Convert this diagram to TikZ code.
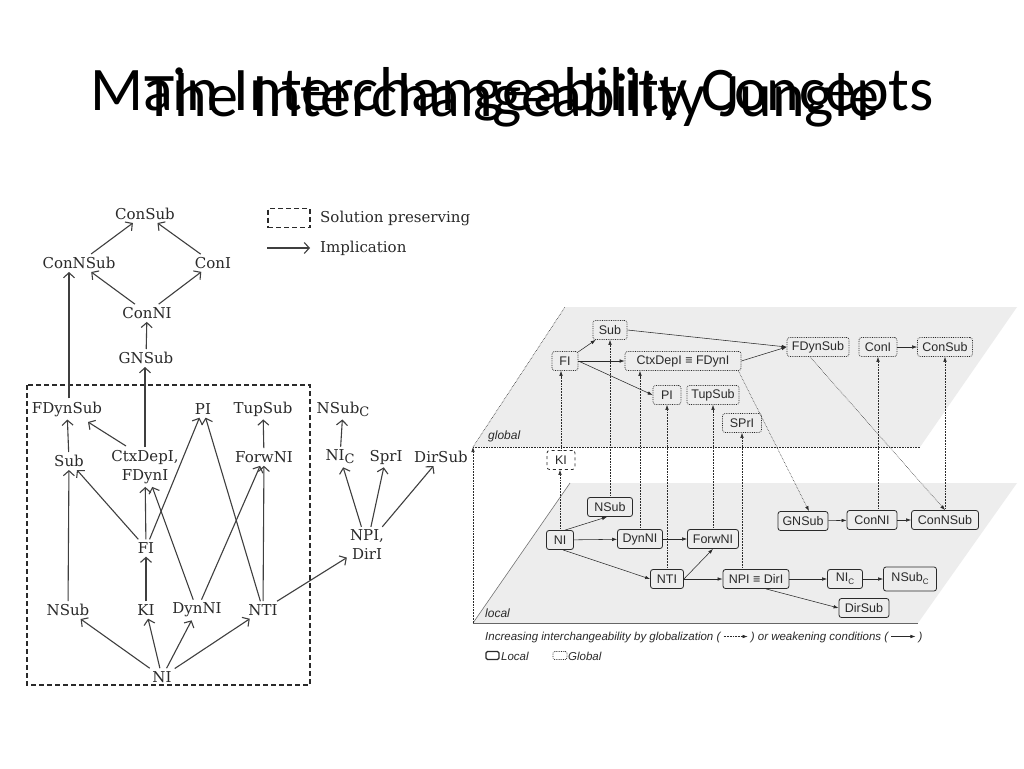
\documentclass[tikz,border=0pt]{standalone}
\usepackage{fontspec}
\setmainfont{DejaVu Serif}
\newfontfamily\titlefont{Carlito}
\newfontfamily\arialfont{Liberation Sans}
\usetikzlibrary{arrows.meta,calc}
\definecolor{plane}{HTML}{EDEDED}
\definecolor{ink}{HTML}{2A2A2A}
\begin{document}
\begin{tikzpicture}[x=1pt,y=-1pt,
  ttl/.style={anchor=base,inner sep=0pt,font=\titlefont\fontsize{62}{62}\selectfont},
  lt/.style={font=\fontsize{15}{19}\selectfont,text=ink,inner sep=3pt},
  la/.style={draw=ink!90,line width=1.1pt,-{Straight Barb[length=5pt,width=11pt]}},
  rb/.style={draw=ink,rounded corners=2.5pt,font=\arialfont\fontsize{12.5}{12.5}\selectfont,
     minimum height=19pt,inner xsep=3pt,inner ysep=0pt,text=ink,line width=0.8pt},
  gb/.style={rb,densely dotted,line width=0.7pt},
  kb/.style={rb,dashed,line width=0.8pt},
  ra/.style={draw=ink,line width=0.55pt,-{Latex[length=5pt,width=3.5pt]}},
  rd/.style={ra,densely dotted},
  captxt/.style={inner sep=0pt,font=\arialfont\itshape\fontsize{11.5}{11.5}\selectfont,text=ink},
  pl/.style={font=\arialfont\itshape\fontsize{12}{12}\selectfont,text=ink,inner sep=0pt}
]
\useasboundingbox (0,0) rectangle (1024,768);
\fill[white] (0,0) rectangle (1024,768);

% titles
\node[ttl] (t1) at (512,110) {Main Interchangeability Concepts};
\node[ttl] (t2) at (512,116) {The Interchangeability Jungle};

% ---------------- left diagram
\node[lt] (lConSub) at (145,214) {ConSub};
\node[lt] (lConNSub) at (79,263) {ConNSub};
\node[lt] (lConI) at (213,263) {ConI};
\node[lt] (lConNI) at (147,313) {ConNI};
\node[lt] (lGNSub) at (146,358) {GNSub};
\node[lt] (lFDynSub) at (67,409) {FDynSub};
\node[lt] (lPI) at (203,409) {PI};
\node[lt] (lTupSub) at (263,409) {TupSub};
\node[lt] (lNSubC) at (343,409) {NSub\raisebox{-3pt}{\fontsize{13}{13}\selectfont C}};
\node[lt] (lSub) at (69,461) {Sub};
\node[lt,align=center] (lctx) at (145,467) {CtxDepI,\\FDynI};
\node[lt] (lForwNI) at (264,457) {ForwNI};
\node[lt] (lNIC) at (340,457) {NI\raisebox{-3pt}{\fontsize{13}{13}\selectfont C}};
\node[lt] (lSprI) at (386,457) {SprI};
\node[lt] (lDirSub) at (441,457) {DirSub};
\node[lt] (lFI) at (146,548) {FI};
\node[lt,align=center] (lNPI) at (367,545) {NPI,\\DirI};
\node[lt] (lNSub) at (68,610) {NSub};
\node[lt] (lKI) at (146,610) {KI};
\node[lt] (lDynNI) at (197,610) {DynNI};
\node[lt] (lNTI) at (263,610) {NTI};
\node[lt] (lNI) at (162,677) {NI};

\draw[dashed,dash pattern=on 5pt off 3pt,line width=1.5pt,ink] (27,385) rectangle (310,685);

\draw[la] (lConNSub) -- (lConSub);
\draw[la] (lConI) -- (lConSub);
\draw[la] (lConNI) -- (lConNSub);
\draw[la] (lConNI) -- (lConI);
\draw[la] (lGNSub) -- (lConNI);
\draw[la] (lctx.north) -- (lctx.north |- lGNSub.south);
\draw[la] ($(lFDynSub.north)+(2,0)$) -- ($(lFDynSub.north |- lConNSub.south)+(2,0)$);
\draw[la] (lSub) -- (lFDynSub);
\draw[la] ($(lctx)+(-19,-21)$) -- ($(lFDynSub)+(21,13)$);
\draw[la] (lFI) -- (lSub);
\draw[la] (lFI) -- (lctx);
\draw[la] (lFI) -- (lPI);
\draw[la] (lDynNI) -- (lctx);
\draw[la] (lNTI) -- (lPI);
\draw[la] (lDynNI) -- (lForwNI);
\draw[la] (lNTI) -- (lForwNI);
\draw[la] (lForwNI) -- (lTupSub);
\draw[la] (lKI) -- (lFI);
\draw[la] (lNSub) -- (lSub);
\draw[la] (lNI) -- (lNSub);
\draw[la] (lNI) -- (lKI);
\draw[la] (lNI) -- (lDynNI);
\draw[la] (lNI) -- (lNTI);
\draw[la] (lNTI) -- (lNPI);
\draw[la] (lNPI) -- (lNIC);
\draw[la] (lNPI) -- (lSprI);
\draw[la] (lNPI) -- (lDirSub);
\draw[la] (lNIC) -- (lNSubC);

% legend left
\node[draw=ink,dashed,dash pattern=on 5pt off 3pt,line width=1.5pt,minimum width=42pt,minimum height=19pt,inner sep=0pt] (legbox) at (289,218) {};
\node[lt,anchor=west] (legsp) at (317,218) {Solution preserving};
\coordinate (legA) at (267,248);
\coordinate (legB) at (310,248);
\draw[la] (legA) -- (legB);
\node[lt,anchor=west] (legimp) at (317,248) {Implication};

% ---------------- right diagram
\fill[plane] (565,307) -- (1017,307) -- (920,447) -- (473,447) -- cycle;
\fill[plane] (570,483) -- (1017,483) -- (918,623) -- (473,623) -- cycle;
\draw[densely dotted,ink,line width=0.6pt] (473,447) -- (920,447);
\draw[densely dotted,ink,line width=0.6pt] (473,447) -- (565,307);
\draw[black!55,line width=0.6pt] (570,483) -- (473,623);
\draw[black!60,line width=0.9pt] (473,623) -- (918,623);
\coordinate (vbot) at (473,623);
\coordinate (vtop) at (473,447);
\draw[rd] (vbot) -- (vtop);
\node[pl,anchor=base west] (glab) at (488,439) {global};
\node[pl,anchor=base west] (llab) at (485,617) {local};

\node[gb,minimum width=34pt] (rSub) at (610,330) {Sub};
\node[gb,minimum width=26pt] (rFI) at (565,361) {FI};
\node[gb,minimum width=116pt] (rCtx) at (683,361) {CtxDepI ≡ FDynI};
\node[gb,minimum width=28pt] (rPI) at (667,395) {PI};
\node[gb,minimum width=52pt] (rTupSub) at (713,395) {TupSub};
\node[gb,minimum width=39pt] (rSPrI) at (742,423) {SPrI};
\node[gb,minimum width=62pt] (rFDynSub) at (818,347) {FDynSub};
\node[gb,minimum width=38pt] (rConI) at (878,347) {ConI};
\node[gb,minimum width=55pt] (rConSub) at (945,347) {ConSub};
\node[kb,minimum width=28pt] (rKI) at (561,460) {KI};

\node[rb,minimum width=45pt] (rNSub) at (610,507) {NSub};
\node[rb,minimum width=27pt] (rNI) at (560,540) {NI};
\node[rb,minimum width=45pt] (rDynNI) at (640,539) {DynNI};
\node[rb,minimum width=51pt] (rForwNI) at (713,539) {ForwNI};
\node[rb,minimum width=33pt] (rNTI) at (667,579) {NTI};
\node[rb,minimum width=66pt] (rNPI) at (756,579) {NPI ≡ DirI};
\node[rb,minimum width=50pt] (rGNSub) at (803,521) {GNSub};
\node[rb,minimum width=50pt] (rConNI) at (872,520) {ConNI};
\node[rb,minimum width=67pt] (rConNSub) at (945,520) {ConNSub};
\node[rb,minimum width=35pt] (rNIC) at (845,579) {NI\raisebox{-3pt}{\fontsize{8}{8}\selectfont C}};
\node[rb,minimum width=53pt,minimum height=24pt] (rNSubC) at (910,579) {NSub\raisebox{-3pt}{\fontsize{8}{8}\selectfont C}};
\node[rb,minimum width=50pt] (rDirSub) at (864,608) {DirSub};

% global edges
\draw[ra] (rFI) -- (rSub);
\draw[ra] (rFI) -- (rCtx);
\draw[ra] (rFI.east) -- (rPI.west);
\draw[ra] (rSub.east) -- (rFDynSub.west);
\draw[ra] (rCtx.east) -- (rFDynSub.west);
\draw[ra] (rConI) -- (rConSub);
% cross-plane
\draw[rd] (rKI.north) -- (rKI.north |- rFI.south);
\draw[rd] (rNI.north) -- (rNI.north |- rKI.south);
\draw[rd] (rNSub.north) -- (rNSub.north |- rSub.south);
\draw[rd] (rDynNI.north) -- (rDynNI.north |- rCtx.south);
\draw[rd] (rNTI.north) -- (rNTI.north |- rPI.south);
\draw[rd] (rForwNI.north) -- (rForwNI.north |- rTupSub.south);
\draw[rd] (rSPrI.south |- rNPI.north) -- (rSPrI.south);
\draw[rd] (rConI.south |- rConNI.north) -- (rConI.south);
\draw[rd] (rConNSub.north) -- (rConSub.south);
\draw[rd] ($(rCtx.south east)+(-3,0)$) -- ($(rGNSub.north)+(6,0)$);
\draw[rd] ($(rFDynSub.south)+(-8,0)$) -- (rConNSub.north);
% local edges
\draw[ra] ($(rNI.north)+(5,0)$) -- ($(rNSub.south)+(-3,0)$);
\draw[ra] (rNI) -- (rDynNI);
\draw[ra] ($(rNI.south)+(3,0)$) -- (rNTI.west);
\draw[ra] (rDynNI) -- (rForwNI);
\draw[ra] (rNTI.east) -- (rForwNI.south);
\draw[ra] (rNTI) -- (rNPI);
\draw[ra] (rNPI) -- (rNIC);
\draw[ra] ($(rNPI.south)+(10,0)$) -- (rDirSub.west);
\draw[ra] (rNIC) -- (rNSubC);
\draw[ra] (rGNSub) -- (rConNI);
\draw[ra] (rConNI) -- (rConNSub);

% caption
\node[captxt,anchor=base west] (c1) at (485,640) {Increasing interchangeability by globalization (};
\coordinate (c1a) at ($(c1.base east)+(3,-3.5)$);
\coordinate (c1b) at ($(c1.base east)+(27,-3.5)$);
\draw[rd] (c1a) -- (c1b);
\node[captxt,anchor=base west] (c2) at ($(c1.base east)+(30,0)$) {) or weakening conditions (};
\coordinate (c2a) at ($(c2.base east)+(3,-3.5)$);
\coordinate (c2b) at ($(c2.base east)+(27,-3.5)$);
\draw[ra] (c2a) -- (c2b);
\node[captxt,anchor=base west] (c3) at ($(c2.base east)+(30,0)$) {)};

\node[rb,minimum width=13pt,minimum height=8pt,line width=1.3pt,rounded corners=1.5pt] (lgl) at (492.5,655.5) {};
\node[captxt,anchor=base west] (lgltxt) at (501,660) {Local};
\node[gb,minimum width=14pt,minimum height=8pt,rounded corners=1.5pt] (lgg) at (560,655.5) {};
\node[captxt,anchor=base west] (lggtxt) at (568,660) {Global};
\end{tikzpicture}
\end{document}
